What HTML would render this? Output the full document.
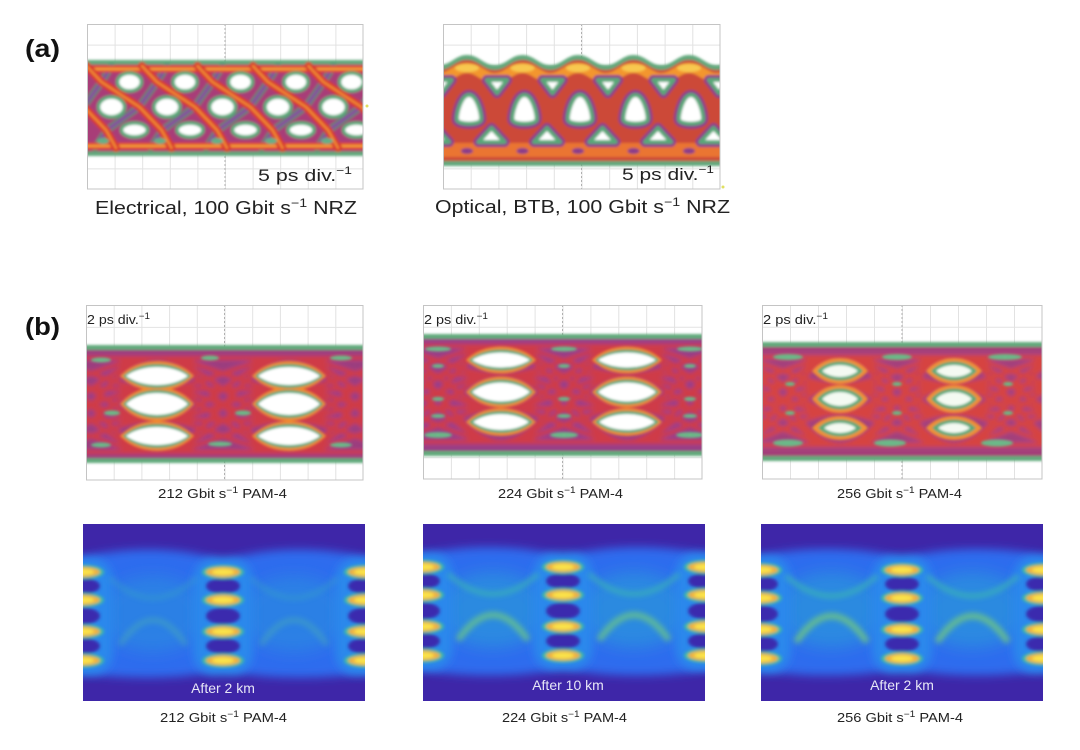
<!DOCTYPE html>
<html><head><meta charset="utf-8"><style>html,body{margin:0;padding:0;background:#fff;}svg{display:block}</style></head><body>
<svg width="1080" height="750" viewBox="0 0 1080 750" xmlns="http://www.w3.org/2000/svg" xmlns:xlink="http://www.w3.org/1999/xlink" font-family="Liberation Sans, Arial, sans-serif">
<defs>
<filter id="s1" x="-10%" y="-10%" width="120%" height="120%"><feGaussianBlur stdDeviation="1.2"/></filter>
<filter id="s2" x="-10%" y="-10%" width="120%" height="120%"><feGaussianBlur stdDeviation="2.2"/></filter>
<filter id="s15" x="-30%" y="-30%" width="160%" height="160%"><feGaussianBlur stdDeviation="1.6"/></filter>
<filter id="s3" x="-20%" y="-20%" width="140%" height="140%"><feGaussianBlur stdDeviation="3"/></filter>
<filter id="s4" x="-30%" y="-30%" width="160%" height="160%"><feGaussianBlur stdDeviation="4.5"/></filter>
<filter id="s8" x="-50%" y="-50%" width="200%" height="200%"><feGaussianBlur stdDeviation="8"/></filter>
<path id="L" d="M-1 0C-.5-1.33 .5-1.33 1 0C.5 1.33-.5 1.33-1 0Z"/>
<polygon id="TD" points="-10,-6 10,-6 0,7"/>
<path id="MD" d="M0,-14C8,-14 13,6 12,11C10,16 -10,16 -12,11C-13,6 -8,-14 0,-14Z"/>
<polygon id="TU" points="0,-7 13,7 -13,7"/>
<clipPath id="ca1"><rect x="87" y="24" width="276" height="165"/></clipPath>
<clipPath id="ca2"><rect x="443" y="24" width="277" height="165"/></clipPath>
<clipPath id="cb1"><rect x="86" y="305" width="277" height="175"/></clipPath>
<clipPath id="cb2"><rect x="423" y="305" width="279" height="174"/></clipPath>
<clipPath id="cb3"><rect x="762" y="305" width="280" height="174"/></clipPath>
<clipPath id="cc1"><rect x="83" y="524" width="282" height="177"/></clipPath>
<clipPath id="cc2"><rect x="423" y="524" width="282" height="177"/></clipPath>
<clipPath id="cc3"><rect x="761" y="524" width="282" height="177"/></clipPath>
<pattern id="pa1" x="87" y="24" width="27.6" height="20.625" patternUnits="userSpaceOnUse"><path d="M.5 0V21M0 .5H28" fill="none" stroke="#e2e2e2"/></pattern>
<pattern id="pa2" x="443" y="24" width="27.7" height="20.625" patternUnits="userSpaceOnUse"><path d="M.5 0V21M0 .5H28" fill="none" stroke="#e2e2e2"/></pattern>
<pattern id="pb1" x="86" y="305" width="27.7" height="21.875" patternUnits="userSpaceOnUse"><path d="M.5 0V22M0 .5H28" fill="none" stroke="#e2e2e2"/></pattern>
<pattern id="pb2" x="423" y="305" width="27.9" height="21.75" patternUnits="userSpaceOnUse"><path d="M.5 0V22M0 .5H28" fill="none" stroke="#e2e2e2"/></pattern>
<pattern id="pb3" x="762" y="305" width="28" height="21.75" patternUnits="userSpaceOnUse"><path d="M.5 0V22M0 .5H28" fill="none" stroke="#e2e2e2"/></pattern>
<path id="B1" fill="none" d="M0 358C46 358 86 358 132 358M0 358C46 358 86 389 132 389M0 358C46 358 86 420 132 420M0 358C46 358 86 452 132 452M0 389C46 389 86 358 132 358M0 389C46 389 86 389 132 389M0 389C46 389 86 420 132 420M0 389C46 389 86 452 132 452M0 420C46 420 86 358 132 358M0 420C46 420 86 389 132 389M0 420C46 420 86 420 132 420M0 420C46 420 86 452 132 452M0 452C46 452 86 358 132 358M0 452C46 452 86 389 132 389M0 452C46 452 86 420 132 420M0 452C46 452 86 452 132 452"/>
<path id="B2" fill="none" d="M0 346C44 346 82 346 126 346M0 346C44 346 82 375 126 375M0 346C44 346 82 408 126 408M0 346C44 346 82 442 126 442M0 375C44 375 82 346 126 346M0 375C44 375 82 375 126 375M0 375C44 375 82 408 126 408M0 375C44 375 82 442 126 442M0 408C44 408 82 346 126 346M0 408C44 408 82 375 126 375M0 408C44 408 82 408 126 408M0 408C44 408 82 442 126 442M0 442C44 442 82 346 126 346M0 442C44 442 82 375 126 375M0 442C44 442 82 408 126 408M0 442C44 442 82 442 126 442"/>
<path id="B3" fill="none" d="M0 357C40 357 74 357 114 357M0 357C40 357 74 385 114 385M0 357C40 357 74 413 114 413M0 357C40 357 74 445 114 445M0 385C40 385 74 357 114 357M0 385C40 385 74 385 114 385M0 385C40 385 74 413 114 413M0 385C40 385 74 445 114 445M0 413C40 413 74 357 114 357M0 413C40 413 74 385 114 385M0 413C40 413 74 413 114 413M0 413C40 413 74 445 114 445M0 445C40 445 74 357 114 357M0 445C40 445 74 385 114 385M0 445C40 445 74 413 114 413M0 445C40 445 74 445 114 445"/>
<g id="colglow"><rect x="-30" y="-14" width="60" height="117" rx="22" fill="#2c88ec"/></g>
<g id="col">
<ellipse cx="0" cy="14" rx="17" ry="8" fill="#3a2cae"/>
<ellipse cx="0" cy="44" rx="17" ry="8.5" fill="#3a2cae"/>
<ellipse cx="0" cy="74" rx="17" ry="8" fill="#3a2cae"/>
<ellipse cx="0" cy="0" rx="21" ry="7" fill="#40bca0"/><ellipse cx="0" cy="0" rx="17" ry="5" fill="#f1b03c"/><ellipse cx="0" cy="0" rx="11" ry="3" fill="#fae44c"/>
<ellipse cx="0" cy="28" rx="21" ry="7" fill="#40bca0"/><ellipse cx="0" cy="28" rx="17" ry="5" fill="#f1b03c"/><ellipse cx="0" cy="28" rx="11" ry="3" fill="#fae44c"/>
<ellipse cx="0" cy="59.5" rx="21" ry="7" fill="#40bca0"/><ellipse cx="0" cy="59.5" rx="17" ry="5" fill="#f1b03c"/><ellipse cx="0" cy="59.5" rx="11" ry="3" fill="#fae44c"/>
<ellipse cx="0" cy="88.5" rx="21" ry="7" fill="#40bca0"/><ellipse cx="0" cy="88.5" rx="17" ry="5" fill="#f1b03c"/><ellipse cx="0" cy="88.5" rx="11" ry="3" fill="#fae44c"/>
</g>
</defs>

<rect width="1080" height="750" fill="#fff"/>

<text x="25" y="57" font-size="25" font-weight="bold" fill="#111" textLength="35" lengthAdjust="spacingAndGlyphs">(a)</text>
<text x="25" y="335" font-size="25" font-weight="bold" fill="#111" textLength="35" lengthAdjust="spacingAndGlyphs">(b)</text>

<!-- ===== a1 ===== -->
<rect x="87" y="24" width="276" height="165" fill="url(#pa1)"/>
<path d="M225 24V189M87 106.5H363" stroke="#b0b0b0" stroke-dasharray="2 2" fill="none"/>
<g clip-path="url(#ca1)"><g filter="url(#s1)">
<rect x="80" y="60" width="290" height="96" fill="#62a87c"/>
<rect x="80" y="64.5" width="290" height="87" fill="#a83e78"/>
<g fill="none" stroke-linejoin="round" stroke-linecap="round">
<g stroke="#4e9c74" stroke-width="7" opacity=".75">
<polyline points="111.5,66 101.5,82 83.5,107 51.5,130 39.5,148"/>
<polyline points="167,66 157,82 139,107 107,130 95,148"/>
<polyline points="222.5,66 212.5,82 194.5,107 162.5,130 150.5,148"/>
<polyline points="278,66 268,82 250,107 218,130 206,148"/>
<polyline points="333.5,66 323.5,82 305.5,107 273.5,130 261.5,148"/>
<polyline points="389,66 379,82 361,107 329,130 317,148"/>
</g>
<g stroke="#8a48a0" stroke-width="3">
<polyline points="111.5,66 101.5,82 83.5,107 51.5,130 39.5,148"/>
<polyline points="167,66 157,82 139,107 107,130 95,148"/>
<polyline points="222.5,66 212.5,82 194.5,107 162.5,130 150.5,148"/>
<polyline points="278,66 268,82 250,107 218,130 206,148"/>
<polyline points="333.5,66 323.5,82 305.5,107 273.5,130 261.5,148"/>
<polyline points="389,66 379,82 361,107 329,130 317,148"/>
</g>
<path d="M80 69H370M80 146H370" stroke="#e0442e" stroke-width="7"/>
<path d="M80 69H370M80 146H370" stroke="#f3a03a" stroke-width="2.5"/>
<g stroke="#d8382e" stroke-width="8">
<polyline points="31,66 46,82 84,107 106,130 116,148"/>
<polyline points="86.5,66 101.5,82 139.5,107 161.5,130 171.5,148"/>
<polyline points="142,66 157,82 195,107 217,130 227,148"/>
<polyline points="197.5,66 212.5,82 250.5,107 272.5,130 282.5,148"/>
<polyline points="253,66 268,82 306,107 328,130 338,148"/>
<polyline points="308.5,66 323.5,82 361.5,107 383.5,130 393.5,148"/>
</g>
<g stroke="#f08a34" stroke-width="2.5">
<polyline points="31,66 46,82 84,107 106,130 116,148"/>
<polyline points="86.5,66 101.5,82 139.5,107 161.5,130 171.5,148"/>
<polyline points="142,66 157,82 195,107 217,130 227,148"/>
<polyline points="197.5,66 212.5,82 250.5,107 272.5,130 282.5,148"/>
<polyline points="253,66 268,82 306,107 328,130 338,148"/>
<polyline points="308.5,66 323.5,82 361.5,107 383.5,130 393.5,148"/>
</g>
</g>
<g fill="#fff" stroke="#5aaa7a" stroke-width="3.5">
<ellipse cx="129.5" cy="82" rx="12" ry="9"/><ellipse cx="185" cy="82" rx="12" ry="9"/><ellipse cx="240.5" cy="82" rx="12" ry="9"/><ellipse cx="296" cy="82" rx="12" ry="9"/><ellipse cx="351.5" cy="82" rx="12" ry="9"/>
<ellipse cx="111.5" cy="107" rx="13" ry="10"/><ellipse cx="167" cy="107" rx="13" ry="10"/><ellipse cx="222.5" cy="107" rx="13" ry="10"/><ellipse cx="278" cy="107" rx="13" ry="10"/><ellipse cx="333.5" cy="107" rx="13" ry="10"/>
<ellipse cx="134.5" cy="130" rx="13" ry="7"/><ellipse cx="190" cy="130" rx="13" ry="7"/><ellipse cx="245.5" cy="130" rx="13" ry="7"/><ellipse cx="301" cy="130" rx="13" ry="7"/><ellipse cx="356.5" cy="130" rx="13" ry="7"/>
</g>
<g fill="#62b088"><ellipse cx="103" cy="141" rx="6" ry="3"/><ellipse cx="160" cy="141" rx="6" ry="3"/><ellipse cx="217" cy="141" rx="6" ry="3"/><ellipse cx="271" cy="141" rx="6" ry="3"/><ellipse cx="327" cy="141" rx="6" ry="3"/></g>
</g></g>
<rect x="87.5" y="24.5" width="275.5" height="164.5" fill="none" stroke="#c4c4c4"/>
<circle cx="367" cy="106" r="1.5" fill="#e0e060"/>
<text x="258" y="181" font-size="17" fill="#222" textLength="94" lengthAdjust="spacingAndGlyphs">5 ps div.<tspan font-size="11" dy="-7">−1</tspan></text>
<text x="95" y="214" font-size="18" fill="#222" textLength="262" lengthAdjust="spacingAndGlyphs">Electrical, 100 Gbit s<tspan font-size="12" dy="-7">−1</tspan><tspan dy="7"> NRZ</tspan></text>

<!-- ===== a2 ===== -->
<rect x="443" y="24" width="277" height="165" fill="url(#pa2)"/>
<path d="M581.5 24V189M443 106.5H720" stroke="#b0b0b0" stroke-dasharray="2 2" fill="none"/>
<g clip-path="url(#ca2)"><g filter="url(#s1)">
<path fill="#62a87c" d="M439.25,65 C451.25,65 455.25,55 467,55 C479,55 483,65 494.75,65 C506.75,65 510.75,55 522.5,55 C534.5,55 538.5,65 550.25,65 C562.25,65 566.25,55 578,55 C590,55 594,65 605.75,65 C617.75,65 621.75,55 633.5,55 C645.5,55 649.5,65 661.25,65 C673.25,65 677.25,55 689,55 C701,55 705,65 716.75,65 C728.75,65 732.75,55 744.5,55 L744.5,166 L439.25,166 Z"/>
<path fill="#cc4838" transform="translate(0,5)" d="M439.25,65 C451.25,65 455.25,55 467,55 C479,55 483,65 494.75,65 C506.75,65 510.75,55 522.5,55 C534.5,55 538.5,65 550.25,65 C562.25,65 566.25,55 578,55 C590,55 594,65 605.75,65 C617.75,65 621.75,55 633.5,55 C645.5,55 649.5,65 661.25,65 C673.25,65 677.25,55 689,55 C701,55 705,65 716.75,65 C728.75,65 732.75,55 744.5,55 L744.5,156 L439.25,156 Z"/>
<path fill="none" stroke="#f3962f" stroke-width="10" transform="translate(0,13)" d="M439.25,65 C451.25,65 455.25,55 467,55 C479,55 483,65 494.75,65 C506.75,65 510.75,55 522.5,55 C534.5,55 538.5,65 550.25,65 C562.25,65 566.25,55 578,55 C590,55 594,65 605.75,65 C617.75,65 621.75,55 633.5,55 C645.5,55 649.5,65 661.25,65 C673.25,65 677.25,55 689,55 C701,55 705,65 716.75,65 C728.75,65 732.75,55 744.5,55"/>
<g fill="#f8c850"><ellipse cx="467" cy="68" rx="12" ry="4"/><ellipse cx="522.5" cy="68" rx="12" ry="4"/><ellipse cx="578" cy="68" rx="12" ry="4"/><ellipse cx="633.5" cy="68" rx="12" ry="4"/><ellipse cx="689" cy="68" rx="12" ry="4"/></g>
<rect x="439" y="143" width="306" height="14" fill="#ea7430"/>
<g fill="#8a3c8a"><ellipse cx="467" cy="151" rx="6" ry="3"/><ellipse cx="522.5" cy="151" rx="6" ry="3"/><ellipse cx="578" cy="151" rx="6" ry="3"/><ellipse cx="633.5" cy="151" rx="6" ry="3"/><ellipse cx="689" cy="151" rx="6" ry="3"/></g>
<g stroke-linejoin="round">
<g fill="none" stroke="#8a3c8e" stroke-width="10">
<use href="#TD" x="441.5" y="86"/><use href="#TD" x="497" y="86"/><use href="#TD" x="552.5" y="86"/><use href="#TD" x="608" y="86"/><use href="#TD" x="663.5" y="86"/><use href="#TD" x="719" y="86"/>
<use href="#MD" x="469" y="109"/><use href="#MD" x="524.5" y="109"/><use href="#MD" x="580" y="109"/><use href="#MD" x="635.5" y="109"/><use href="#MD" x="691" y="109"/>
<use href="#TU" x="436" y="135"/><use href="#TU" x="491.5" y="135"/><use href="#TU" x="547" y="135"/><use href="#TU" x="602.5" y="135"/><use href="#TU" x="658" y="135"/><use href="#TU" x="713.5" y="135"/>
</g>
<g fill="#fff" stroke="#58a878" stroke-width="4">
<use href="#TD" x="441.5" y="86"/><use href="#TD" x="497" y="86"/><use href="#TD" x="552.5" y="86"/><use href="#TD" x="608" y="86"/><use href="#TD" x="663.5" y="86"/><use href="#TD" x="719" y="86"/>
<use href="#MD" x="469" y="109"/><use href="#MD" x="524.5" y="109"/><use href="#MD" x="580" y="109"/><use href="#MD" x="635.5" y="109"/><use href="#MD" x="691" y="109"/>
<use href="#TU" x="436" y="135"/><use href="#TU" x="491.5" y="135"/><use href="#TU" x="547" y="135"/><use href="#TU" x="602.5" y="135"/><use href="#TU" x="658" y="135"/><use href="#TU" x="713.5" y="135"/>
</g>
</g>
</g></g>
<rect x="443.5" y="24.5" width="276.5" height="164.5" fill="none" stroke="#c4c4c4"/>
<circle cx="723" cy="187" r="1.5" fill="#e0e060"/>
<text x="622" y="180" font-size="17" fill="#222" textLength="92" lengthAdjust="spacingAndGlyphs">5 ps div.<tspan font-size="11" dy="-7">−1</tspan></text>
<text x="435" y="213" font-size="18" fill="#222" textLength="295" lengthAdjust="spacingAndGlyphs">Optical, BTB, 100 Gbit s<tspan font-size="12" dy="-7">−1</tspan><tspan dy="7"> NRZ</tspan></text>

<!-- ===== b1 ===== -->
<rect x="86" y="305" width="277" height="175" fill="url(#pb1)"/>
<path d="M224.5 305V480" stroke="#b0b0b0" stroke-dasharray="2 2" fill="none"/>
<g clip-path="url(#cb1)">
<g filter="url(#s1)">
<rect x="80" y="345" width="290" height="118" fill="#62aa7c"/>
<rect x="80" y="350" width="290" height="108" fill="#9c3c7c"/>
</g>
<g filter="url(#s2)">
<g stroke="#7a44aa" stroke-width="8" opacity=".5"><use href="#B1" x="25"/><use href="#B1" x="157"/><use href="#B1" x="289"/></g>
<g stroke="#e03a34" stroke-width="5" opacity=".8"><use href="#B1" x="25"/><use href="#B1" x="157"/><use href="#B1" x="289"/></g>
</g>
<g filter="url(#s1)">
<g fill="#f08a32">
<use href="#L" transform="translate(157 376) scale(37 15)"/><use href="#L" transform="translate(157 404) scale(37 17)"/><use href="#L" transform="translate(157 436) scale(37 15)"/>
<use href="#L" transform="translate(289 376) scale(37 15)"/><use href="#L" transform="translate(289 404) scale(37 17)"/><use href="#L" transform="translate(289 436) scale(37 15)"/>
</g>
<g fill="#5aa878">
<use href="#L" transform="translate(157 376) scale(34 12)"/><use href="#L" transform="translate(157 404) scale(34 14)"/><use href="#L" transform="translate(157 436) scale(34 12)"/>
<use href="#L" transform="translate(289 376) scale(34 12)"/><use href="#L" transform="translate(289 404) scale(34 14)"/><use href="#L" transform="translate(289 436) scale(34 12)"/>
</g>
<g fill="#fff">
<use href="#L" transform="translate(157 376) scale(31 9)"/><use href="#L" transform="translate(157 404) scale(31 11)"/><use href="#L" transform="translate(157 436) scale(31 9)"/>
<use href="#L" transform="translate(289 376) scale(31 9)"/><use href="#L" transform="translate(289 404) scale(31 11)"/><use href="#L" transform="translate(289 436) scale(31 9)"/>
</g>
<g fill="#6cb888">
<ellipse cx="101" cy="360" rx="10" ry="2.5"/><ellipse cx="210" cy="358" rx="9" ry="2.5"/><ellipse cx="341" cy="358" rx="11" ry="2.5"/>
<ellipse cx="112" cy="413" rx="8" ry="2.5"/><ellipse cx="243" cy="413" rx="8" ry="2.5"/>
<ellipse cx="101" cy="445" rx="10" ry="2.5"/><ellipse cx="220" cy="444" rx="12" ry="2.5"/><ellipse cx="341" cy="445" rx="11" ry="2.5"/>
</g>
</g></g>
<rect x="86.5" y="305.5" width="276.5" height="174.5" fill="none" stroke="#c4c4c4"/>
<text x="87" y="324" font-size="13" fill="#222" textLength="63" lengthAdjust="spacingAndGlyphs">2 ps div.<tspan font-size="9" dy="-5">−1</tspan></text>
<text x="158" y="498" font-size="13" fill="#222" textLength="129" lengthAdjust="spacingAndGlyphs">212 Gbit s<tspan font-size="9" dy="-5">−1</tspan><tspan dy="5"> PAM-4</tspan></text>

<!-- ===== b2 ===== -->
<rect x="423" y="305" width="279" height="174" fill="url(#pb2)"/>
<path d="M562.5 305V479" stroke="#b0b0b0" stroke-dasharray="2 2" fill="none"/>
<g clip-path="url(#cb2)">
<g filter="url(#s1)">
<rect x="417" y="334" width="292" height="122" fill="#62aa7c"/>
<rect x="417" y="339" width="292" height="112" fill="#983e84"/>
</g>
<g filter="url(#s2)">
<g stroke="#7a44aa" stroke-width="8" opacity=".5"><use href="#B2" x="375"/><use href="#B2" x="501"/><use href="#B2" x="627"/></g>
<g stroke="#e03a34" stroke-width="5" opacity=".8"><use href="#B2" x="375"/><use href="#B2" x="501"/><use href="#B2" x="627"/></g>
</g>
<g filter="url(#s1)">
<g fill="#f08a32">
<use href="#L" transform="translate(501 360) scale(35 13.5)"/><use href="#L" transform="translate(501 392) scale(35 15.5)"/><use href="#L" transform="translate(501 422) scale(35 14)"/>
<use href="#L" transform="translate(627 360) scale(35 13.5)"/><use href="#L" transform="translate(627 392) scale(35 15.5)"/><use href="#L" transform="translate(627 422) scale(35 14)"/>
</g>
<g fill="#5aa878">
<use href="#L" transform="translate(501 360) scale(32 10.5)"/><use href="#L" transform="translate(501 392) scale(32 12.5)"/><use href="#L" transform="translate(501 422) scale(32 11)"/>
<use href="#L" transform="translate(627 360) scale(32 10.5)"/><use href="#L" transform="translate(627 392) scale(32 12.5)"/><use href="#L" transform="translate(627 422) scale(32 11)"/>
</g>
<g fill="#fff">
<use href="#L" transform="translate(501 360) scale(29 7.5)"/><use href="#L" transform="translate(501 392) scale(29 9.5)"/><use href="#L" transform="translate(501 422) scale(28 8)"/>
<use href="#L" transform="translate(627 360) scale(29 7.5)"/><use href="#L" transform="translate(627 392) scale(29 9.5)"/><use href="#L" transform="translate(627 422) scale(28 8)"/>
</g>
<g fill="#6cb888">
<ellipse cx="438" cy="349" rx="13" ry="2.5"/><ellipse cx="564" cy="349" rx="13" ry="2.5"/><ellipse cx="690" cy="349" rx="13" ry="2.5"/>
<ellipse cx="438" cy="366" rx="6" ry="2"/><ellipse cx="564" cy="366" rx="6" ry="2"/><ellipse cx="690" cy="366" rx="6" ry="2"/>
<ellipse cx="438" cy="399" rx="6" ry="2"/><ellipse cx="564" cy="399" rx="6" ry="2"/><ellipse cx="690" cy="399" rx="6" ry="2"/>
<ellipse cx="438" cy="416" rx="7" ry="2"/><ellipse cx="564" cy="416" rx="7" ry="2"/><ellipse cx="690" cy="416" rx="7" ry="2"/>
<ellipse cx="438" cy="435" rx="14" ry="3"/><ellipse cx="564" cy="435" rx="14" ry="3"/><ellipse cx="690" cy="435" rx="14" ry="3"/>
</g>
</g></g>
<rect x="423.5" y="305.5" width="278.5" height="173.5" fill="none" stroke="#c4c4c4"/>
<text x="424" y="324" font-size="13" fill="#222" textLength="64" lengthAdjust="spacingAndGlyphs">2 ps div.<tspan font-size="9" dy="-5">−1</tspan></text>
<text x="498" y="498" font-size="13" fill="#222" textLength="125" lengthAdjust="spacingAndGlyphs">224 Gbit s<tspan font-size="9" dy="-5">−1</tspan><tspan dy="5"> PAM-4</tspan></text>

<!-- ===== b3 ===== -->
<rect x="762" y="305" width="280" height="174" fill="url(#pb3)"/>
<path d="M902 305V479" stroke="#b0b0b0" stroke-dasharray="2 2" fill="none"/>
<g clip-path="url(#cb3)">
<g filter="url(#s1)">
<rect x="756" y="342" width="292" height="119" fill="#62aa7c"/>
<rect x="756" y="347" width="292" height="109" fill="#a44078"/>
</g>
<g filter="url(#s2)">
<g stroke="#7a44aa" stroke-width="8" opacity=".5"><use href="#B3" x="726"/><use href="#B3" x="840"/><use href="#B3" x="954"/></g>
<g stroke="#e8442e" stroke-width="5" opacity=".8"><use href="#B3" x="726"/><use href="#B3" x="840"/><use href="#B3" x="954"/></g>
</g>
<g filter="url(#s1)">
<g fill="#f29034">
<use href="#L" transform="translate(840 371) scale(28 13)"/><use href="#L" transform="translate(840 399) scale(28 14)"/><use href="#L" transform="translate(840 428) scale(28 12)"/>
<use href="#L" transform="translate(954 371) scale(28 13)"/><use href="#L" transform="translate(954 399) scale(28 14)"/><use href="#L" transform="translate(954 428) scale(28 12)"/>
</g>
<g fill="#5aa878">
<use href="#L" transform="translate(840 371) scale(23 9.5)"/><use href="#L" transform="translate(840 399) scale(23 10.5)"/><use href="#L" transform="translate(840 428) scale(22 8.5)"/>
<use href="#L" transform="translate(954 371) scale(23 9.5)"/><use href="#L" transform="translate(954 399) scale(23 10.5)"/><use href="#L" transform="translate(954 428) scale(22 8.5)"/>
</g>
<g fill="#f4faf2">
<use href="#L" transform="translate(840 371) scale(18 6)"/><use href="#L" transform="translate(840 399) scale(18 7)"/><use href="#L" transform="translate(840 428) scale(16 5)"/>
<use href="#L" transform="translate(954 371) scale(18 6)"/><use href="#L" transform="translate(954 399) scale(18 7)"/><use href="#L" transform="translate(954 428) scale(16 5)"/>
</g>
<g fill="#6cb888">
<ellipse cx="788" cy="357" rx="15" ry="3"/><ellipse cx="897" cy="357" rx="15" ry="3"/><ellipse cx="1005" cy="357" rx="17" ry="3"/>
<ellipse cx="788" cy="443" rx="15" ry="3.5"/><ellipse cx="890" cy="443" rx="16" ry="3.5"/><ellipse cx="997" cy="443" rx="16" ry="3.5"/>
<ellipse cx="790" cy="384" rx="5" ry="2"/><ellipse cx="897" cy="384" rx="5" ry="2"/><ellipse cx="1008" cy="384" rx="5" ry="2"/>
<ellipse cx="790" cy="413" rx="5" ry="2"/><ellipse cx="897" cy="413" rx="5" ry="2"/><ellipse cx="1008" cy="413" rx="5" ry="2"/>
</g>
</g></g>
<rect x="762.5" y="305.5" width="279.5" height="173.5" fill="none" stroke="#c4c4c4"/>
<text x="763" y="324" font-size="13" fill="#222" textLength="65" lengthAdjust="spacingAndGlyphs">2 ps div.<tspan font-size="9" dy="-5">−1</tspan></text>
<text x="837" y="498" font-size="13" fill="#222" textLength="125" lengthAdjust="spacingAndGlyphs">256 Gbit s<tspan font-size="9" dy="-5">−1</tspan><tspan dy="5"> PAM-4</tspan></text>

<!-- ===== c1 ===== -->
<g clip-path="url(#cc1)">
<rect x="83" y="524" width="282" height="177" fill="#3e26a8"/>
<path filter="url(#s4)" fill="#2d6cee" d="M70,560 C120,546 180,546 223,561 C266,546 326,546 378,560 L378,671 C326,680 266,680 223,670 C180,680 120,680 70,671Z"/>
<g filter="url(#s8)" fill="#2a92de" opacity=".55"><ellipse cx="153" cy="614" rx="55" ry="38"/><ellipse cx="294" cy="614" rx="55" ry="38"/></g>
<use href="#colglow" x="83" y="572" filter="url(#s4)"/><use href="#colglow" x="223" y="572" filter="url(#s4)"/><use href="#colglow" x="365" y="572" filter="url(#s4)"/>
<g filter="url(#s3)" fill="none" opacity=".35">
<path d="M110,578 Q153,618 196,578M251,578 Q294,618 337,578" stroke="#3cb4b4" stroke-width="4"/>
<path d="M120,645 Q153,595 186,645M261,645 Q294,595 327,645" stroke="#5cc49a" stroke-width="5"/>
</g>
<use href="#col" x="83" y="572" filter="url(#s15)"/><use href="#col" x="223" y="572" filter="url(#s15)"/><use href="#col" x="365" y="572" filter="url(#s15)"/>
</g>
<text x="223" y="693" font-size="14" fill="#e6e6f6" text-anchor="middle">After 2 km</text>
<text x="160" y="722" font-size="13" fill="#222" textLength="127" lengthAdjust="spacingAndGlyphs">212 Gbit s<tspan font-size="9" dy="-5">−1</tspan><tspan dy="5"> PAM-4</tspan></text>

<!-- ===== c2 ===== -->
<g clip-path="url(#cc2)">
<rect x="423" y="524" width="282" height="177" fill="#3e26a8"/>
<path filter="url(#s4)" fill="#2d6cee" d="M410,557 C460,544 520,544 563,557 C606,544 666,544 718,557 L718,668 C666,678 606,678 563,668 C520,678 460,678 410,668Z"/>
<g filter="url(#s8)" fill="#2a9ada" opacity=".65"><ellipse cx="493" cy="610" rx="55" ry="38"/><ellipse cx="634" cy="610" rx="55" ry="38"/></g>
<use href="#colglow" x="423" y="567" filter="url(#s4)"/><use href="#colglow" x="563" y="567" filter="url(#s4)"/><use href="#colglow" x="705" y="567" filter="url(#s4)"/>
<g filter="url(#s3)" fill="none" opacity=".8">
<path d="M448,574 Q493,614 538,574M589,574 Q634,614 679,574" stroke="#3cb8b0" stroke-width="4"/>
<path d="M458,640 Q493,590 528,640M599,640 Q634,590 669,640" stroke="#6ec884" stroke-width="6"/>
</g>
<use href="#col" x="423" y="567" filter="url(#s15)"/><use href="#col" x="563" y="567" filter="url(#s15)"/><use href="#col" x="705" y="567" filter="url(#s15)"/>
</g>
<text x="568" y="690" font-size="14" fill="#e6e6f6" text-anchor="middle">After 10 km</text>
<text x="502" y="722" font-size="13" fill="#222" textLength="125" lengthAdjust="spacingAndGlyphs">224 Gbit s<tspan font-size="9" dy="-5">−1</tspan><tspan dy="5"> PAM-4</tspan></text>

<!-- ===== c3 ===== -->
<g clip-path="url(#cc3)">
<rect x="761" y="524" width="282" height="177" fill="#3e26a8"/>
<path filter="url(#s4)" fill="#2d6cee" d="M748,558 C798,546 858,546 902,558 C946,546 1006,546 1056,558 L1056,668 C1006,678 946,678 902,668 C858,678 798,678 748,668Z"/>
<g filter="url(#s8)" fill="#2a9ada" opacity=".65"><ellipse cx="831.5" cy="610" rx="55" ry="38"/><ellipse cx="972.5" cy="610" rx="55" ry="38"/></g>
<use href="#colglow" x="761" y="570" filter="url(#s4)"/><use href="#colglow" x="902" y="570" filter="url(#s4)"/><use href="#colglow" x="1043" y="570" filter="url(#s4)"/>
<g filter="url(#s3)" fill="none" opacity=".85">
<path d="M786,576 Q831.5,616 877,576M927,576 Q972.5,616 1018,576" stroke="#3cb8b0" stroke-width="4"/>
<path d="M796,642 Q831.5,590 867,642M937,642 Q972.5,590 1008,642" stroke="#72c880" stroke-width="6"/>
</g>
<use href="#col" x="761" y="570" filter="url(#s15)"/><use href="#col" x="902" y="570" filter="url(#s15)"/><use href="#col" x="1043" y="570" filter="url(#s15)"/>
</g>
<text x="902" y="690" font-size="14" fill="#e6e6f6" text-anchor="middle">After 2 km</text>
<text x="837" y="722" font-size="13" fill="#222" textLength="126" lengthAdjust="spacingAndGlyphs">256 Gbit s<tspan font-size="9" dy="-5">−1</tspan><tspan dy="5"> PAM-4</tspan></text>
</svg>
</body></html>
